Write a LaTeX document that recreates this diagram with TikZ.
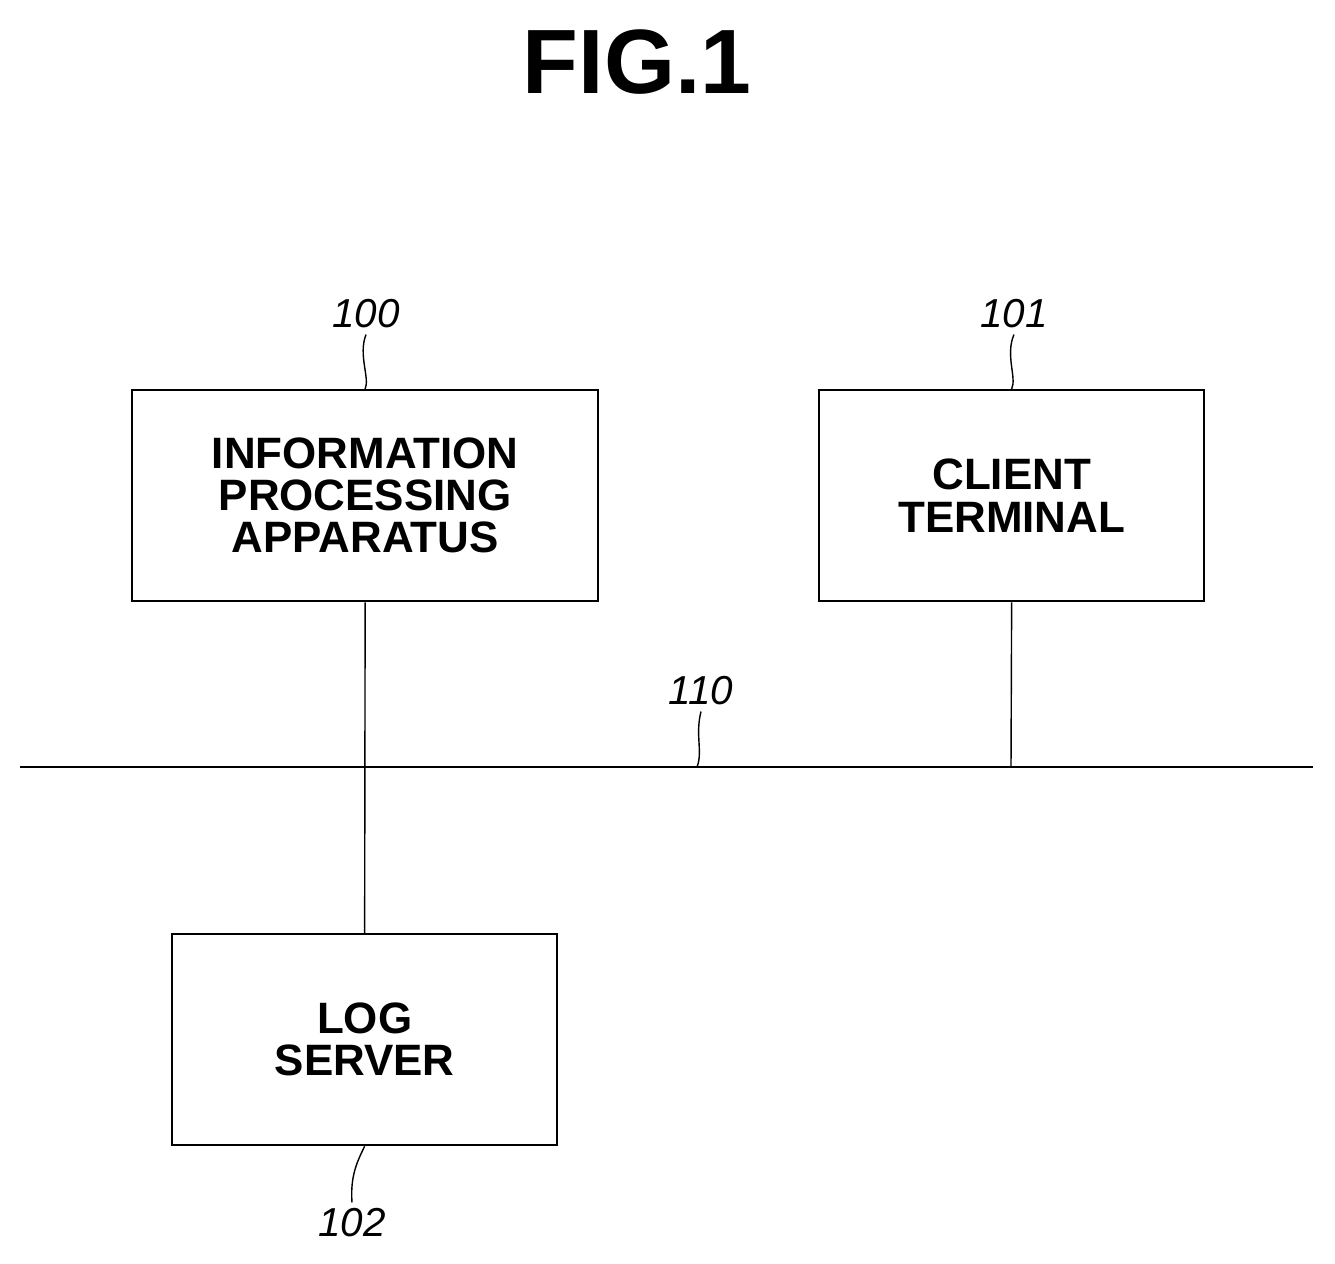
\documentclass[tikz,border=0pt]{standalone}
\usepackage{fontspec}
\setmainfont{Liberation Sans}
\begin{document}
\begin{tikzpicture}[x=0.02cm,y=-0.02cm,
  box/.style={draw,line width=1.3pt,inner sep=0pt,anchor=north west},
  btxt/.style={font=\fontsize{25}{24}\selectfont\bfseries,align=center},
  ref/.style={font=\fontsize{23}{24}\selectfont\itshape},
  ln/.style={line width=0.8pt}]
\useasboundingbox (0,0) rectangle (1335,1264);
\node[font=\fontsize{52}{52}\selectfont\bfseries] (title) at (637,62) {FIG.1};
\node[box,minimum width=466*0.02cm,minimum height=211*0.02cm] (b100) at (131,389) {};
\node[btxt] (t100) at (b100.center) {INFORMATION\\PROCESSING\\APPARATUS};
\node[box,minimum width=385*0.02cm,minimum height=211*0.02cm] (b101) at (818,389) {};
\node[btxt] (t101) at (b101.center) {CLIENT\\TERMINAL};
\node[box,minimum width=385*0.02cm,minimum height=211*0.02cm] (b102) at (171,933) {};
\node[btxt] (t102) at (b102.center) {LOG\\SERVER};
\coordinate (busL) at (20,767);
\coordinate (busR) at (1313,767);
\draw[line width=1.3pt] (busL) -- (busR);
\coordinate (j1) at (364,767);
\coordinate (j2) at (1011,767);
\draw[ln] (b100.south) -- (b102.north);
\draw[ln] (b101.south) -- (j2);
\node[ref] (l100) at (366,314) {100};
\node[ref] (l101) at (1014,314) {101};
\node[ref] (l110) at (701,691) {110};
\node[ref] (l102) at (352,1223) {102};
\coordinate (s110) at (697,767);
\draw[ln] (l100.south) .. controls (358,355) and (370,378) .. (b100.north);
\draw[ln] (l101.south) .. controls (1005,355) and (1017,378) .. (b101.north);
\draw[ln] (l110.south) .. controls (695,735) and (703,752) .. (s110);
\draw[ln] (b102.south) .. controls (358,1160) and (350,1175) .. (l102.north);
\end{tikzpicture}
\end{document}
